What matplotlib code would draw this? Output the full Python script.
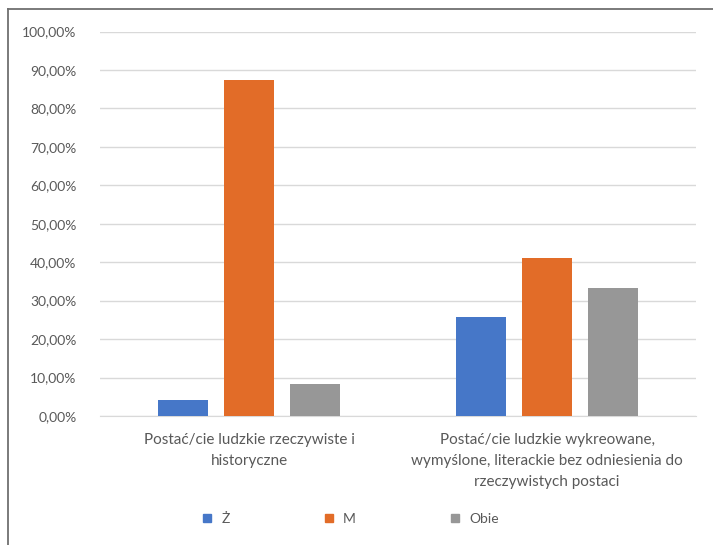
import matplotlib.pyplot as plt
from matplotlib.lines import Line2D
from matplotlib.ticker import FuncFormatter
import numpy as np

# dane
categories = ["Postać/cie ludzkie rzeczywiste i\nhistoryczne",
              "Postać/cie ludzkie wykreowane,\nwymyślone, literackie bez odniesienia do\nrzeczywistych postaci"]
series = ["Ż", "M", "Obie"]
z_vals = [4.17, 25.64]
m_vals = [87.50, 41.03]
obie_vals = [8.33, 33.33]

colors = ["#4677C8", "#E26C28", "#979797"]
txt_color = "#595959"
plt.rcParams['font.family'] = ['Lato', 'DejaVu Sans']

fig = plt.figure(figsize=(7.13, 5.45), dpi=100)
ax = fig.add_axes([100/713, 1-416/545, 596/713, (416-31.5)/545])

x = np.arange(len(categories))
w = 0.17
off = 0.222
for i, (vals, name) in enumerate(zip([z_vals, m_vals, obie_vals], series)):
    ax.bar(x + (i-1)*off, vals, width=w, color=colors[i], label=name, zorder=3)

ax.set_xlim(-0.5, 1.5)
ax.set_ylim(0, 100)
ax.set_yticks(np.arange(0, 101, 10))
ax.yaxis.set_major_formatter(FuncFormatter(lambda v, p: f"{v:.2f}%".replace(".", ",")))
ax.grid(axis='y', color="#D9D9D9", linewidth=1, zorder=0)
for s in ["top", "right", "left"]:
    ax.spines[s].set_visible(False)
ax.spines["bottom"].set_color("#D9D9D9")
ax.tick_params(axis='y', length=0, pad=17, labelsize=10, labelcolor=txt_color)
ax.tick_params(axis='x', length=0, pad=12, labelsize=11, labelcolor=txt_color)
ax.set_xticks(x)
ax.set_xticklabels(categories, linespacing=1.65)

# legenda
handles = [Line2D([], [], marker='s', linestyle='', markersize=6, color=c) for c in colors]
fig.legend(handles, series, loc='center', bbox_to_anchor=(346/713, 1-519/545), ncol=3,
           frameon=False, handletextpad=0.05, columnspacing=6.1, labelcolor=txt_color,
           fontsize=10)

# ramka
fig.add_artist(Line2D([8/713, 1], [1-9/545, 1-9/545], color="#707070", linewidth=1.3))
fig.add_artist(Line2D([8/713, 8/713], [0, 1-9/545], color="#707070", linewidth=1.3))

fig.savefig("out.png", dpi=100)
